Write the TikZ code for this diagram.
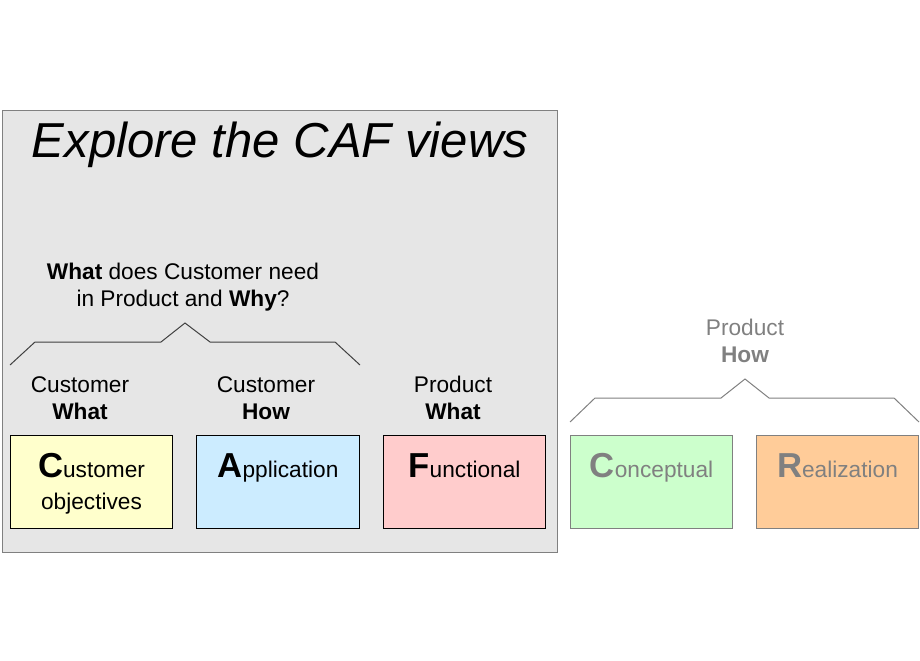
\documentclass[tikz,border=0pt]{standalone}
\usepackage{fontspec}
\setmainfont{Liberation Sans}
\usepackage{tikz}
\usetikzlibrary{positioning}
\definecolor{panel}   {HTML}{E6E6E6}
\definecolor{frame}   {HTML}{808080}
\definecolor{dim}     {HTML}{808080}
\definecolor{custfill}{HTML}{FFFFCC}
\definecolor{applfill}{HTML}{CCECFF}
\definecolor{funcfill}{HTML}{FFCCCC}
\definecolor{concfill}{HTML}{CCFFCC}
\definecolor{realfill}{HTML}{FFCC99}
\newcommand{\viewinitial}[1]{{\fontsize{26}{26}\selectfont\bfseries #1}}
\tikzset{
  viewbox/.style={draw=black,line width=0.75pt,minimum width=122pt,
                  minimum height=69.75pt,inner sep=0pt},
  viewtext/.style={anchor=base,align=center,inner sep=0pt,
                   font=\fontsize{17}{24}\selectfont},
  tag/.style={anchor=base,align=center,inner sep=0pt,
              font=\fontsize{17}{20.25}\selectfont},
  bracket/.style={draw=black!75,line width=0.75pt}
}
\begin{document}
\begin{tikzpicture}[x=0.75pt,y=-0.75pt]
  \useasboundingbox (0,0) rectangle (920,660);
  % the explored views
  \draw[draw=frame,fill=panel,line width=0.75pt] (2,110) rectangle (557,552);
  \node[anchor=base,inner sep=0pt,font=\fontsize{36.8}{36.8}\selectfont\itshape]
    (title) at (280,157) {Explore the CAF views};
  % two-line nodes sit on the baseline of their last line
  \node[tag] (question) at (183,306)
    {\textbf{What} does Customer need\\in Product and \textbf{Why}?};
  \draw[bracket] (10,365) -- (35,342) -- (161,342) -- (185,323)
    -- (210,342) -- (335,342) -- (360,365);
  \node[tag] (custtag) at (80,419) {Customer\\\textbf{What}};
  \node[tag] (appltag) at (266,419) {Customer\\\textbf{How}};
  \node[tag] (functag) at (453,419) {Product\\\textbf{What}};
  \node[viewbox,fill=custfill] (cust) at (91.5,481.5) {};
  \node[viewbox,fill=applfill] (appl) at (278,481.5) {};
  \node[viewbox,fill=funcfill] (func) at (464.5,481.5) {};
  \node[viewtext] (custtext) at (cust.center |- 0,509)
    {\viewinitial{C}ustomer\\objectives};
  \node[viewtext] (appltext) at (appl.center |- 0,477) {\viewinitial{A}pplication};
  \node[viewtext] (functext) at (func.center |- 0,477) {\viewinitial{F}unctional};
  % the views still to come
  \node[tag,text=dim] (conctag) at (745,362) {Product\\\textbf{How}};
  \draw[bracket,draw=dim] (570,422) -- (595,398) -- (721,398) -- (745,379)
    -- (769,398) -- (894,398) -- (919,422);
  \node[viewbox,draw=frame,fill=concfill] (conc) at (651.5,481.5) {};
  \node[viewbox,draw=frame,fill=realfill] (real) at (837.5,481.5) {};
  \node[viewtext,text=dim] (conctext) at (conc.center |- 0,477)
    {\viewinitial{C}onceptual};
  \node[viewtext,text=dim] (realtext) at (real.center |- 0,477)
    {\viewinitial{R}ealization};
\end{tikzpicture}
\end{document}
